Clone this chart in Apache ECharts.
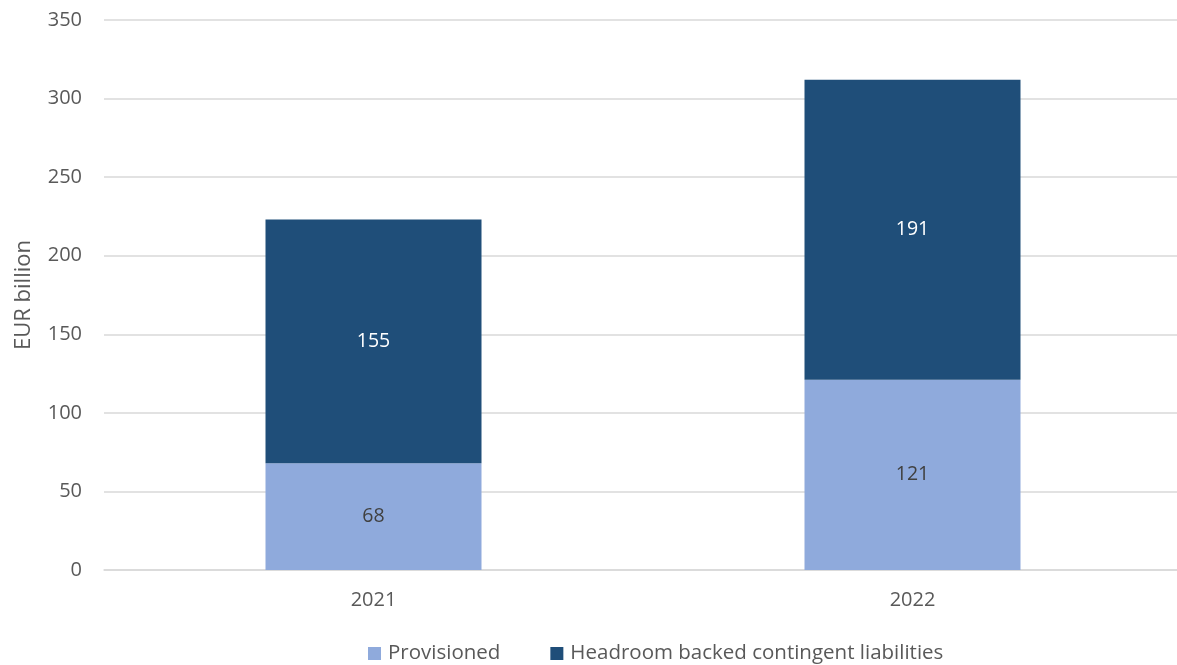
<!DOCTYPE html>
<html><head><meta charset="utf-8">
<script src="https://cdn.jsdelivr.net/npm/echarts@6/dist/echarts.min.js"></script>
<style>html,body{margin:0;padding:0;background:#fff}#c{width:1177px;height:665px}</style>
</head><body><div id="c"></div>
<script>
const categories = ['2021', '2022'];
const provisioned = [68, 121];
const headroom = [155, 191];
const seriesNames = ['Provisioned', 'Headroom backed contingent liabilities'];
const yTicks = { min: 0, max: 350, interval: 50 };

const FONT = 'Open Sans';
const chart = echarts.init(document.getElementById('c'));
chart.setOption({
  animation: false,
  textStyle: { fontFamily: FONT },
  grid: { left: 104, width: 1078, top: 20, height: 550, outerBoundsMode: 'none', containLabel: false },
  legend: {
    top: 643, left: 368, padding: 0, itemWidth: 13, itemHeight: 13, itemGap: 50,
    icon: 'rect',
    textStyle: { fontFamily: FONT, fontSize: 20.5, color: '#595959', padding: [0, 0, 0, 2] },
    data: seriesNames
  },
  xAxis: {
    type: 'category', data: categories,
    axisLine: { lineStyle: { color: '#D9D9D9', width: 1.5 } },
    axisTick: { show: false },
    axisLabel: { fontFamily: FONT, fontSize: 20, color: '#595959', margin: 20 }
  },
  yAxis: {
    type: 'value', min: yTicks.min, max: yTicks.max, interval: yTicks.interval,
    name: 'EUR billion', nameLocation: 'middle', nameGap: 69, nameRotate: 90,
    nameTextStyle: { fontFamily: FONT, fontSize: 22, color: '#595959' },
    axisLine: { show: false }, axisTick: { show: false },
    axisLabel: { fontFamily: FONT, fontSize: 20, color: '#595959', margin: 22 },
    splitLine: { lineStyle: { color: '#D9D9D9', width: 1.5 } }
  },
  series: [
    {
      name: seriesNames[0], type: 'bar', stack: 'a', data: provisioned, barWidth: 216,
      itemStyle: { color: '#8FAADC' },
      label: { show: true, position: 'inside', fontFamily: FONT, fontSize: 19.5, color: '#404040' }
    },
    {
      name: seriesNames[1], type: 'bar', stack: 'a', data: headroom, barWidth: 216,
      itemStyle: { color: '#1F4E79' },
      label: { show: true, position: 'inside', fontFamily: FONT, fontSize: 19.5, color: '#FFFFFF' }
    }
  ]
});
</script></body></html>
